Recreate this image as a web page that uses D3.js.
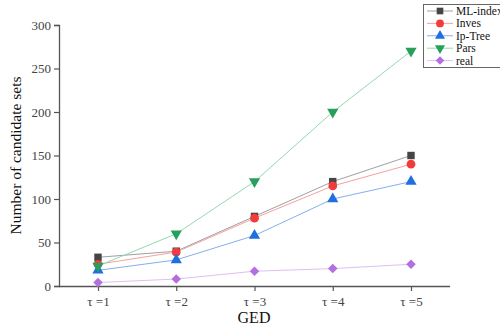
<!DOCTYPE html>
<html>
<head>
<meta charset="utf-8">
<script src="https://cdn.jsdelivr.net/npm/d3@7"></script>
<style>
  body { margin: 0; background: #fff; }
  svg { font-family: "Liberation Serif", "DejaVu Serif", serif; }
</style>
</head>
<body>
<svg id="chart"></svg>
<script>
// data
var categories = ["τ =1", "τ =2", "τ =3", "τ =4", "τ =5"];
var mlIndex = [33, 40, 80, 120, 150];
var inves = [25, 39, 78, 115, 140];
var ipTree = [18, 30, 58, 100, 120];
var pars = [23, 60, 120, 200, 270];
var real = [4, 8, 17, 20, 25];
var yTicks = [0, 50, 100, 150, 200, 250, 300];

// square rotated 45deg for the diamond markers
var series = [
  {name: "ML-index", values: mlIndex, marker: "#454545", line: "#a0a0a0", symbol: d3.symbolSquare, size: 55, rot: 0},
  {name: "Inves", values: inves, marker: "#f43b3b", line: "#f7a0a0", symbol: d3.symbolCircle, size: 60, rot: 0},
  {name: "Ip-Tree", values: ipTree, marker: "#1f6fe0", line: "#86aef0", symbol: d3.symbolTriangle, size: 55, rot: 0},
  {name: "Pars", values: pars, marker: "#27a05e", line: "#93d8b2", symbol: d3.symbolTriangle, size: 55, rot: 180},
  {name: "real", values: real, marker: "#b36ee0", line: "#dcc0f2", symbol: d3.symbolSquare, size: 45, rot: 45}
];

var svgWidth = 500, svgHeight = 329;
var margin = {top: 25, right: 50, bottom: 43, left: 59};
var width = svgWidth - margin.left - margin.right;
var height = svgHeight - margin.top - margin.bottom;

var svg = d3.select("#chart")
    .attr("width", svgWidth)
    .attr("height", svgHeight);

var g = svg.append("g")
    .attr("transform", "translate(" + margin.left + "," + margin.top + ")");

var x = d3.scalePoint()
    .domain(categories)
    .range([39, 352]);

var y = d3.scaleLinear()
    .domain([0, 300])
    .range([height, 0]);

// axes
var xAxis = g.append("g")
    .attr("transform", "translate(0," + height + ")")
    .call(d3.axisBottom(x).tickSizeOuter(0).tickSize(5).tickPadding(6));
xAxis.select(".domain").attr("d", "M0,0.5H" + width);

var yAxis = g.append("g")
    .call(d3.axisLeft(y).tickValues(yTicks).tickSizeOuter(0).tickSize(5).tickPadding(3));

[xAxis, yAxis].forEach(function(a) {
  a.selectAll(".domain").attr("stroke", "#555").attr("stroke-width", 1.3);
  a.selectAll(".tick line").attr("stroke", "#555").attr("stroke-width", 1.2);
  a.selectAll(".tick text")
    .attr("fill", "#444")
    .style("font-family", "Liberation Serif, serif")
    .style("font-size", "13px");
});

// lines then markers
var line = d3.line()
    .x(function(d, i) { return x(categories[i]); })
    .y(function(d) { return y(d); });

series.forEach(function(s) {
  g.append("path")
    .datum(s.values)
    .attr("fill", "none")
    .attr("stroke", s.line)
    .attr("stroke-width", 1)
    .attr("d", line);
});

series.forEach(function(s) {
  g.selectAll(null)
    .data(s.values)
    .enter().append("path")
    .attr("d", d3.symbol().type(s.symbol).size(s.size))
    .attr("fill", s.marker)
    .attr("transform", function(d, i) {
      return "translate(" + x(categories[i]) + "," + y(d) + ") rotate(" + s.rot + ")";
    });
});

// axis titles
svg.append("text")
  .attr("transform", "translate(21," + (margin.top + height / 2) + ") rotate(-90)")
  .attr("text-anchor", "middle")
  .style("font-size", "15.5px")
  .attr("fill", "#111")
  .text("Number of candidate sets");

svg.append("text")
  .attr("x", 254)
  .attr("y", 323)
  .attr("text-anchor", "middle")
  .style("font-size", "16px")
  .attr("fill", "#111")
  .text("GED");

// legend
var legend = svg.append("g").attr("transform", "translate(423,4)");
legend.append("rect")
  .attr("x", 0.5).attr("y", 0.5)
  .attr("width", 90).attr("height", 63)
  .attr("fill", "#fff")
  .attr("stroke", "#666")
  .attr("stroke-width", 1);

series.forEach(function(s, i) {
  var ly = 7 + i * 12.4;
  legend.append("line")
    .attr("x1", 4).attr("x2", 30)
    .attr("y1", ly).attr("y2", ly)
    .attr("stroke", s.line).attr("stroke-width", 1);
  legend.append("path")
    .attr("d", d3.symbol().type(s.symbol).size(s.size * 0.8))
    .attr("fill", s.marker)
    .attr("transform", "translate(17," + ly + ") rotate(" + s.rot + ")");
  legend.append("text")
    .attr("x", 33)
    .attr("y", ly + 4)
    .style("font-size", "11.5px")
    .attr("fill", "#111")
    .text(s.name);
});
</script>
</body>
</html>
